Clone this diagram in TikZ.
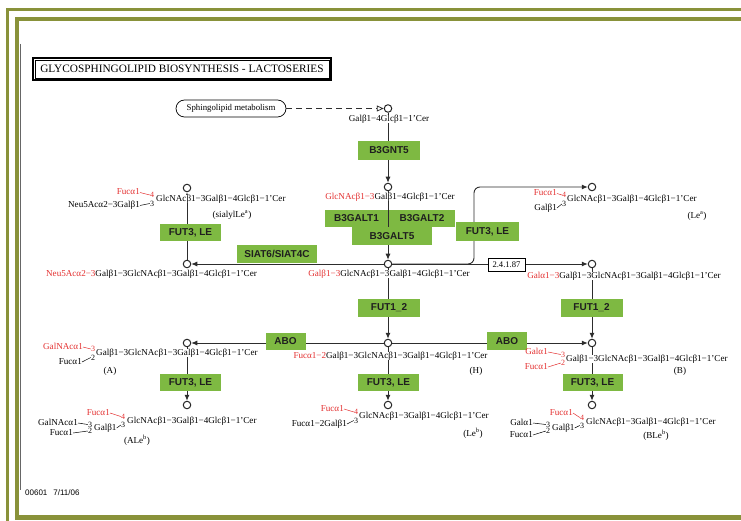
\documentclass[tikz,border=0pt]{standalone}
\usepackage{fontspec}
\setmainfont{Liberation Serif}
\newfontfamily\enzfont{Liberation Sans}
\usetikzlibrary{arrows.meta}
\definecolor{kframe}{RGB}{137,146,58}
\definecolor{kgreen}{RGB}{126,185,66}
\definecolor{kred}{RGB}{228,48,48}
\definecolor{kline}{RGB}{45,45,45}
\begin{document}
\begin{tikzpicture}[x=1pt,y=-1pt,
  lbl/.style={inner sep=0pt,font=\fontsize{9.1}{10}\selectfont,text height=6.3pt,text depth=1.8pt},
  cname/.style={lbl,fill=white},
  dig/.style={inner sep=0pt,font=\fontsize{8}{8}\selectfont,text height=5.4pt,text depth=0pt},
  rd/.style={text=kred},
  enz/.style={fill=kgreen,inner sep=0pt,text=black!88,font=\enzfont\bfseries\fontsize{10}{11}\selectfont},
  cpd/.style={circle,draw=black!85,fill=white,line width=1pt,inner sep=0pt,minimum size=7.5pt},
  conn/.style={draw=kline,line width=0.9pt},
  arr/.style={conn,-{Latex[length=6pt,width=5pt]}},
  tick/.style={line width=0.5pt},
]
\useasboundingbox (0,0) rectangle (741,521);
\fill[white] (0,0) rectangle (741,521);

% page frame
\fill[kframe] (6,8) rectangle (741,10.7);
\fill[kframe] (6,8) rectangle (9,521);
\fill[kframe] (15,17) rectangle (741,21);
\fill[kframe] (15,17) rectangle (19,520);
\fill[kframe] (15,515) rectangle (741,520);
\draw[black!60,line width=0.9pt] (20.2,44) -- (20.2,490);

% title
\node[draw,line width=1.6pt,minimum width=298pt,minimum height=22pt,inner sep=0pt,
      font=\fontsize{11.3}{12}\selectfont] (title) at (182,69)
      {GLYCOSPHINGOLIPID BIOSYNTHESIS - LACTOSERIES};
\draw[line width=0.5pt] ([shift={(2.6,2.6)}]title.north west) rectangle ([shift={(-2.6,-2.6)}]title.south east);

% compounds
\node[cpd] (c0)  at (388,108.5) {};
\node[cpd] (c1)  at (388,187) {};
\node[cpd] (c2)  at (388,264) {};
\node[cpd] (cL0) at (187,188) {};
\node[cpd] (cL1) at (187,264) {};
\node[cpd] (cR0) at (592,187) {};
\node[cpd] (cR1) at (592,264) {};
\node[cpd] (c3)  at (388,343) {};
\node[cpd] (cA)  at (187,343) {};
\node[cpd] (cB)  at (592,343) {};
\node[cpd] (cA2) at (187,405) {};
\node[cpd] (cH2) at (388,405) {};
\node[cpd] (cB2) at (592,405) {};
\coordinate (bend) at (474,264);

% link to sphingolipid metabolism
\node[draw,line width=0.7pt,rounded corners=8.5pt,minimum width=110pt,minimum height=17pt,inner sep=0pt,
      font=\fontsize{8.8}{9}\selectfont] (sph) at (231,108.5) {Sphingolipid metabolism};
\draw[kline,line width=0.8pt,dash pattern=on 6pt off 4pt,-{Triangle[open,length=7pt,width=6pt]}] (sph) -- (c0);

% enzymes whose gap shows the reaction line
\node[enz,minimum width=63pt,minimum height=17pt] (eG1) at (356.5,218.5) {B3GALT1};
\node[enz,minimum width=66pt,minimum height=17pt] (eG2) at (422,218.5) {B3GALT2};

% reactions
\draw[arr] (c0) -- (c1);
\draw[arr] (c1) -- (c2);
\draw[arr] (c2) -- (cL1);
\draw[arr] (cL1) -- (cL0);
\draw[arr,rounded corners=6pt] (c2) -- (bend) |- (cR0);
\draw[arr] (c2) -- (cR1);
\draw[arr] (c2) -- (c3);
\draw[arr] (cR1) -- (cB);
\draw[arr] (c3) -- (cA);
\draw[arr] (c3) -- (cB);
\draw[arr] (cA) -- (cA2);
\draw[arr] (c3) -- (cH2);
\draw[arr] (cB) -- (cB2);

% enzymes
\node[enz,minimum width=62pt,minimum height=19pt] (eN5) at (389,150.5) {B3GNT5};
\node[enz,minimum width=80pt,minimum height=18pt] (eG5) at (392,236) {B3GALT5};
\node[enz,minimum width=80pt,minimum height=18pt] (eS)  at (277,254) {SIAT6/SIAT4C};
\node[enz,minimum width=61pt,minimum height=17pt] (eF1) at (190.5,232.5) {FUT3, LE};
\node[enz,minimum width=63pt,minimum height=19pt] (eF2) at (487.5,231.5) {FUT3, LE};
\node[enz,minimum width=62pt,minimum height=18pt] (eH1) at (389,308) {FUT1\_2};
\node[enz,minimum width=62pt,minimum height=18pt] (eH2) at (591.5,308) {FUT1\_2};
\node[enz,minimum width=40pt,minimum height=17pt] (eA1) at (285.5,341.5) {ABO};
\node[enz,minimum width=40pt,minimum height=18pt] (eA2) at (507,341) {ABO};
\node[enz,minimum width=61pt,minimum height=17pt] (eF3) at (190.5,382.5) {FUT3, LE};
\node[enz,minimum width=61pt,minimum height=17pt] (eF4) at (388.5,382.5) {FUT3, LE};
\node[enz,minimum width=60pt,minimum height=17pt] (eF5) at (592.5,382.5) {FUT3, LE};
\node[draw,fill=white,line width=0.8pt,minimum width=37pt,minimum height=13pt,inner sep=0pt,
      font=\fontsize{8.6}{9}\selectfont] (ec) at (506.5,264.5) {2.4.1.87};

% linear compound names
\node[cname] (t0) at (389,119) {Galβ1−4Glcβ1−1'Cer};
\node[cname] (t1) at (390,197) {\textcolor{kred}{GlcNAcβ1−3}Galβ1−4Glcβ1−1'Cer};
\node[cname] (t2) at (389,274) {\textcolor{kred}{Galβ1−3}GlcNAcβ1−3Galβ1−4Glcβ1−1'Cer};
\node[cname] (tL1) at (151.5,274) {\textcolor{kred}{Neu5Acα2−3}Galβ1−3GlcNAcβ1−3Galβ1−4Glcβ1−1'Cer};
\node[cname] (tR1) at (624,276) {\textcolor{kred}{Galα1−3}Galβ1−3GlcNAcβ1−3Galβ1−4Glcβ1−1'Cer};
\node[cname] (t3) at (390.5,356) {\textcolor{kred}{Fucα1−2}Galβ1−3GlcNAcβ1−3Galβ1−4Glcβ1−1'Cer};
\node[lbl] (nH) at (476,371) {(H)};

% sialyl Lewis a
\node[cname,anchor=west] (sLm) at (156,199) {GlcNAcβ1−3Galβ1−4Glcβ1−1'Cer};
\node[dig,rd] (sLd1) at (152,195) {4};
\node[dig] (sLd2) at (152,203.5) {3};
\node[lbl,rd,anchor=east] (sLf) at (140,192.5) {Fucα1};
\node[lbl,anchor=east] (sLg) at (140,205.5) {Neu5Acα2−3Galβ1};
\draw[tick,kred] (sLf.east) -- (sLd1.west);
\draw[tick] (sLg.east) -- (sLd2.west);
\node[lbl] (nsL) at (232,215) {(sialylLe\textsuperscript{a})};

% Lewis a
\node[cname,anchor=west] (Lam) at (567,199) {GlcNAcβ1−3Galβ1−4Glcβ1−1'Cer};
\node[dig,rd] (Lad1) at (564,195) {4};
\node[dig] (Lad2) at (564,204) {3};
\node[lbl,rd,anchor=east] (Laf) at (557,193.5) {Fucα1};
\node[lbl,anchor=east] (Lag) at (557,208) {Galβ1};
\draw[tick,kred] (Laf.east) -- (Lad1.west);
\draw[tick] (Lag.east) -- (Lad2.west);
\node[lbl] (nLa) at (697,216) {(Le\textsuperscript{a})};

% A antigen
\node[cname,anchor=west] (Am) at (96,353) {Galβ1−3GlcNAcβ1−3Galβ1−4Glcβ1−1'Cer};
\node[dig,rd] (Ad1) at (93,349) {3};
\node[dig] (Ad2) at (93,357.5) {2};
\node[lbl,rd,anchor=east] (Ag) at (83,347) {GalNAcα1};
\node[lbl,anchor=east] (Af) at (82,362) {Fucα1};
\draw[tick,kred] (Ag.east) -- (Ad1.west);
\draw[tick] (Af.east) -- (Ad2.west);
\node[lbl] (nA) at (110,371) {(A)};

% B antigen
\node[cname,anchor=west] (Bm) at (566,359) {Galβ1−3GlcNAcβ1−3Galβ1−4Glcβ1−1'Cer};
\node[dig,rd] (Bd1) at (563,354.5) {3};
\node[dig,rd] (Bd2) at (563,363) {2};
\node[lbl,rd,anchor=east] (Bg) at (548,352) {Galα1};
\node[lbl,rd,anchor=east] (Bf) at (548,367) {Fucα1};
\draw[tick,kred] (Bg.east) -- (Bd1.west);
\draw[tick,kred] (Bf.east) -- (Bd2.west);
\node[lbl] (nB) at (680,371) {(B)};

% A Lewis b
\node[cname,anchor=west] (ALm) at (127,421) {GlcNAcβ1−3Galβ1−4Glcβ1−1'Cer};
\node[dig,rd] (ALd1) at (123,416.5) {4};
\node[dig] (ALd2) at (123,425) {3};
\node[lbl,rd,anchor=east] (ALf) at (110,413) {Fucα1};
\node[lbl,anchor=west] (ALg) at (94,428) {Galβ1};
\draw[tick,kred] (ALf.east) -- (ALd1.west);
\draw[tick] (ALg.east) -- (ALd2.west);
\node[dig] (ALe1) at (90,424.5) {3};
\node[dig] (ALe2) at (90,431) {2};
\node[lbl,anchor=east] (ALn) at (78,423) {GalNAcα1};
\node[lbl,anchor=east] (ALu) at (73,433) {Fucα1};
\draw[tick] (ALn.east) -- (ALe1.west);
\draw[tick] (ALu.east) -- (ALe2.west);
\node[lbl] (nALb) at (137,441) {(ALe\textsuperscript{b})};

% Lewis b
\node[cname,anchor=west] (Lbm) at (359,416) {GlcNAcβ1−3Galβ1−4Glcβ1−1'Cer};
\node[dig,rd] (Lbd1) at (356,412) {4};
\node[dig] (Lbd2) at (356,420.5) {3};
\node[lbl,rd,anchor=east] (Lbf) at (344,409) {Fucα1};
\node[lbl,anchor=east] (Lbg) at (347,424) {Fucα1−2Galβ1};
\draw[tick,kred] (Lbf.east) -- (Lbd1.west);
\draw[tick] (Lbg.east) -- (Lbd2.west);
\node[lbl] (nLb) at (473,434) {(Le\textsuperscript{b})};

% B Lewis b
\node[cname,anchor=west] (BLm) at (586,422) {GlcNAcβ1−3Galβ1−4Glcβ1−1'Cer};
\node[dig,rd] (BLd1) at (582,417.5) {4};
\node[dig] (BLd2) at (582,425.5) {3};
\node[lbl,rd,anchor=east] (BLf) at (573,413) {Fucα1};
\node[lbl,anchor=west] (BLg) at (552,428) {Galβ1};
\draw[tick,kred] (BLf.east) -- (BLd1.west);
\draw[tick] (BLg.east) -- (BLd2.west);
\node[dig] (BLe1) at (548,424.5) {3};
\node[dig] (BLe2) at (548,431) {2};
\node[lbl,anchor=east] (BLn) at (533,423) {Galα1};
\node[lbl,anchor=east] (BLu) at (533,435) {Fucα1};
\draw[tick] (BLn.east) -- (BLe1.west);
\draw[tick] (BLu.east) -- (BLe2.west);
\node[lbl] (nBLb) at (656,436) {(BLe\textsuperscript{b})};

% map id and date
\node[anchor=west,inner sep=0pt,font=\enzfont\fontsize{8}{9}\selectfont] (mapid) at (25,493) {00601\hspace{6pt}7/11/06};
\end{tikzpicture}
\end{document}
